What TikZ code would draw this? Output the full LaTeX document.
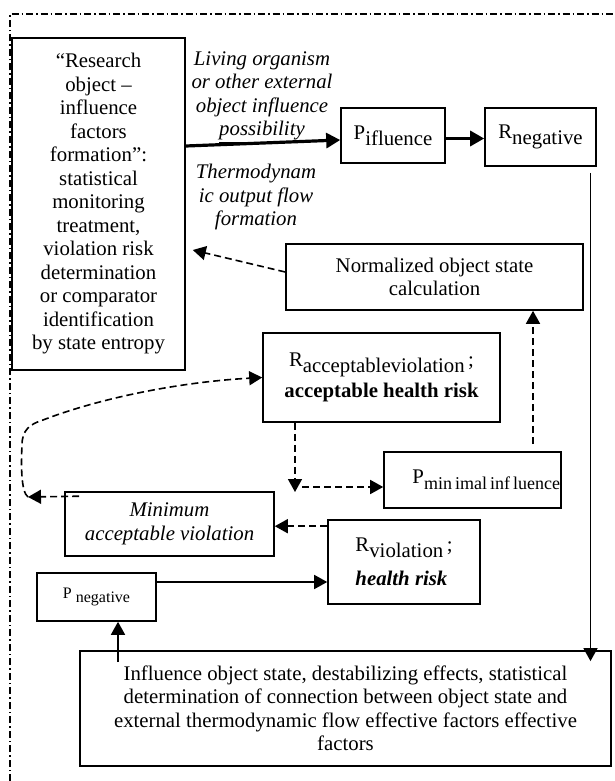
\documentclass[tikz,border=0pt]{standalone}
\usepackage{fontspec}
\setmainfont{Liberation Serif}
\usetikzlibrary{arrows.meta}
\newcommand{\lowsub}[1]{\raisebox{-0.3em}{#1}}

\begin{document}
\begin{tikzpicture}[x=1pt, y=-1pt,
    box/.style={draw, line width=1.6pt, inner sep=0pt, align=center},
    txt/.style={font=\fontsize{20.8}{23.5}\selectfont},
    itxt/.style={font=\fontsize{20.8}{23.5}\selectfont\itshape},
    frame/.style={line width=1.5pt, dash pattern=on 7pt off 3pt on 1.5pt off 3pt},
    dasharrow/.style={-{Triangle[length=13pt,width=14pt]}, line width=1.6pt, dash pattern=on 7pt off 4pt},
    solidarrow/.style={-{Triangle[length=13pt,width=14pt]}, line width=1.6pt},
    thickarrow/.style={-{Triangle[length=14pt,width=15pt]}, line width=3.2pt}]
    % Frame
    \useasboundingbox (0,0) rectangle (615,781);
    \draw[frame] (10,781) -- (10,14) -- (615,14);

    % Define blocks
    \node[box, txt, minimum width=173pt, minimum height=332pt] (obj) at (98.5,204)
        {``Research\\object --\\influence\\factors\\formation'':\\statistical\\monitoring\\treatment,\\violation risk\\determination\\or comparator\\identification\\by state entropy};
    \node[itxt, align=center] (ext) at (262,97)
        {Living organism\\or other external\\object influence\\\underline{possibility}};
    \node[itxt, align=center] (flow) at (256,197) {Thermodynam\\ic output flow\\formation};
    \node[box, txt, minimum width=104pt, minimum height=55pt] (pif) at (393,135.5) {P\lowsub{ifluence}};
    \node[box, txt, minimum width=111pt, minimum height=58pt] (rneg) at (540.5,137) {R\lowsub{negative}};
    \node[box, txt, minimum width=297pt, minimum height=66pt] (nrm) at (434.5,277) {Normalized object state\\calculation};
    \node[box, txt, minimum width=237pt, minimum height=89pt] (racc) at (381.5,377.5)
        {R\lowsub{acceptableviolation}\,;\\[5.5pt]\textbf{acceptable health risk}};
    \node[box, txt, text width=175pt, inner xsep=1pt, align=right, minimum height=56pt] (pmin) at (472.5,480)
        {P\lowsub{\fontsize{18}{18}\selectfont min\,imal\,inf\,luence}};
    \node[box, itxt, minimum width=209pt, minimum height=64pt] (mini) at (169.5,524) {Minimum\\acceptable violation};
    \node[box, txt, align=left, minimum width=152pt, minimum height=84pt] (rvl) at (404,562)
        {R\lowsub{violation}\,;\\[10.5pt]\textbf{\textit{health risk}}};
    \node[box, font=\fontsize{16}{18}\selectfont, minimum width=119pt, minimum height=48pt] (pneg) at (96.5,597) {P \lowsub{negative}};
    \node[box, txt, line width=1.8pt, minimum width=531pt, minimum height=115pt] (bot) at (345.5,708.5)
        {Influence object state, destabilizing effects, statistical\\determination of connection between object state and\\external thermodynamic flow effective factors effective\\factors};

    % Define coordinates
    \coordinate (rdown) at ([xshift=50pt,yshift=-6pt]rneg.south);
    \coordinate (uv) at ([xshift=60.5pt,yshift=7pt]pmin.north);
    \coordinate (dv) at ([xshift=-86.5pt]racc.south);
    \coordinate (cv) at (28,497);
    \coordinate (pu) at ([xshift=21.5pt]pneg.south);

    % Draw connectors
    \draw[thickarrow] ([yshift=58pt]obj.east) -- ([yshift=-4.5pt]pif.west);
    \draw[thickarrow] ([yshift=-3pt]pif.east) -- ([yshift=-3pt]pif.east -| rneg.west);
    \draw[solidarrow] (rdown) -- ([yshift=-11pt]bot.north -| rdown);
    \draw[dasharrow] ([yshift=5pt]nrm.west) -- ([xshift=7pt,yshift=-46pt]obj.east);
    \draw[dasharrow] (uv) -- (uv |- nrm.south);
    \draw[dasharrow] (dv) -- ([yshift=-12pt]pmin.west -| dv);
    \draw[dasharrow] ([xshift=7pt,yshift=-7pt]pmin.west -| dv) -- ([yshift=-7pt]pmin.west);
    \draw[dasharrow] ([yshift=-7pt]rvl.north west) -- ([yshift=-7pt]rvl.north west -| mini.east);
    \draw[dasharrow] ([xshift=15pt,yshift=-5pt]mini.north west) -- (cv);
    \draw[dasharrow] (cv) .. controls (21,492) and (21,465) .. (22,445)
        .. controls (22,430) and (30,424) .. (43,420)
        .. controls (100,398) and (180,382) .. (racc.west);
    \draw[solidarrow] ([yshift=15pt]pneg.east) -- ([yshift=15pt]pneg.east -| rvl.west);
    \draw[solidarrow] ([yshift=-12pt]bot.north -| pu) -- (pu);
\end{tikzpicture}
\end{document}
